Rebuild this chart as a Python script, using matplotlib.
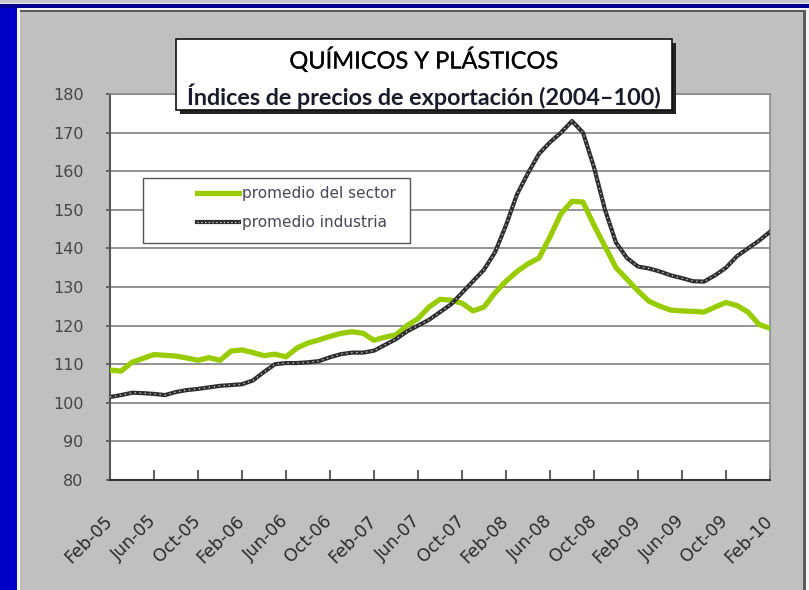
import matplotlib
matplotlib.use("Agg")
import matplotlib.pyplot as plt
from matplotlib.patches import Rectangle
from matplotlib.lines import Line2D
from matplotlib.transforms import ScaledTranslation
import matplotlib.patheffects as pe

# ---------------- data ----------------
tick_labels = ["Feb-05", "Jun-05", "Oct-05", "Feb-06", "Jun-06", "Oct-06", "Feb-07",
               "Jun-07", "Oct-07", "Feb-08", "Jun-08", "Oct-08", "Feb-09", "Jun-09",
               "Oct-09", "Feb-10"]

sector = [108.5, 108.2, 110.5, 111.5, 112.5, 112.3, 112.1, 111.6, 111.0, 111.7,
          111.0, 113.4, 113.7, 113.0, 112.2, 112.6, 111.9, 114.2, 115.5, 116.3,
          117.2, 118.0, 118.4, 118.0, 116.2, 117.0, 117.6, 120.0, 121.8, 124.8,
          126.8, 126.6, 125.8, 123.8, 124.8, 128.5, 131.5, 134.0, 136.0, 137.5,
          143.0, 149.0, 152.2, 152.0, 146.0, 140.5, 135.0, 132.0, 129.0, 126.3,
          125.0, 124.0, 123.8, 123.7, 123.5, 124.8, 126.0, 125.2, 123.5, 120.3,
          119.3]

industria = [101.5, 102.0, 102.6, 102.5, 102.3, 102.0, 102.8, 103.3, 103.6, 104.0,
             104.4, 104.6, 104.8, 105.8, 108.0, 110.0, 110.3, 110.3, 110.5, 110.8,
             111.8, 112.6, 113.0, 113.0, 113.5, 115.0, 116.5, 118.5, 120.0, 121.5,
             123.5, 125.5, 128.5, 131.5, 134.5, 139.0, 146.0, 154.0, 159.5, 164.5,
             167.5, 170.0, 173.0, 170.0, 161.0, 150.0, 141.5, 137.5, 135.3, 134.8,
             134.0, 133.0, 132.3, 131.5, 131.4, 133.0, 135.0, 138.0, 140.0, 142.0,
             144.3]

y_ticks = [80, 90, 100, 110, 120, 130, 140, 150, 160, 170, 180]
title1 = "QUÍMICOS Y PLÁSTICOS"
title2 = "Índices de precios de exportación (2004\u2013100)"
legend_labels = ["promedio del sector", "promedio industria"]

# ---------------- figure ----------------
W, H = 809, 590
fig = plt.figure(figsize=(W / 100, H / 100), dpi=100)
fig.patch.set_facecolor("#0000C8")


def fx(px):
    return px / W


def fy(py):
    return 1 - py / H


def rect_px(x0, y0, x1, y1, parent=None, **kw):
    r = Rectangle((fx(x0), fy(y1)), fx(x1) - fx(x0), fy(y0) - fy(y1),
                  transform=fig.transFigure, **kw)
    if parent is None:
        fig.add_artist(r)
    else:
        parent.add_artist(r)
    return r


# top strip
rect_px(0, 0, W, 3, facecolor="#C8C8D0", edgecolor="none", zorder=0)
rect_px(0, 3, W, 4, facecolor="#F0F0F0", edgecolor="none", zorder=0)
rect_px(0, 4, W, 8, facecolor="#00008C", edgecolor="none", zorder=0)
# white outline around chart area
rect_px(17, 8, W, H, facecolor="#F4F4F4", edgecolor="none", zorder=0)
# chart area
rect_px(20, 10, 806, H + 5, facecolor="#C0C0C0", edgecolor="none", zorder=0)
rect_px(20, 10, 806, 12, facecolor="#5A5A5A", edgecolor="none", zorder=0)
rect_px(803, 10, 806, H, facecolor="#5A5A5A", edgecolor="none", zorder=0)

# ---------------- axes ----------------
L, R, T, B = 110, 770, 94, 480
ax = fig.add_axes([fx(L), fy(B), fx(R) - fx(L), fy(T) - fy(B)])
ax.set_facecolor("white")

x = list(range(len(sector)))
tick_pos = list(range(0, len(sector), 4))

ax.plot(x, sector, color="#99CC00", lw=3.8, solid_joinstyle="round",
        solid_capstyle="round", zorder=4)
ax.plot(x, industria, color="#2E2E2E", lw=3.0, solid_joinstyle="round", zorder=5)
ax.plot(x, industria, color="#D8D8D8", lw=0.9, linestyle=(0, (1, 3)), zorder=6)

ax.set_xlim(0, len(sector) - 1)
ax.set_ylim(80, 180)
ax.set_yticks(y_ticks)
ax.set_xticks(tick_pos)
ax.set_xticklabels([])
ax.set_yticklabels([str(v) for v in y_ticks], fontsize=11.5, color="#454545")

lab_tr = ax.get_xaxis_transform() + ScaledTranslation(-7 / 100, -32 / 100, fig.dpi_scale_trans)
for pos, lab in zip(tick_pos, tick_labels):
    ax.text(pos, 0, lab, transform=lab_tr, rotation=45, ha="right", va="top",
            rotation_mode="anchor", fontsize=12.5, color="#2A2A2A", clip_on=False)

ax.tick_params(axis="x", direction="in", length=7, width=1.2, color="#444444")
ax.tick_params(axis="y", direction="out", length=3, width=1.2, color="#555555", pad=16)

ax.grid(axis="y", color="#8A8A8A", lw=1.3)
ax.set_axisbelow(True)
for s in ["top", "right"]:
    ax.spines[s].set_color("#8A8A8A")
    ax.spines[s].set_linewidth(1.2)
ax.spines["left"].set_color("#555555")
ax.spines["left"].set_linewidth(1.5)
ax.spines["bottom"].set_color("#333333")
ax.spines["bottom"].set_linewidth(1.5)

# ---------------- legend ----------------
rect_px(143, 178, 410, 243, parent=ax, facecolor="white", edgecolor="#555555",
        lw=1.0, zorder=9, clip_on=False)
h1 = Line2D([], [], color="#99CC00", lw=3.8)
h2a = Line2D([], [], color="#2E2E2E", lw=3.0)
h2b = Line2D([], [], color="#D8D8D8", lw=0.9, linestyle=(0, (1, 2)))
leg = ax.legend([h1, (h2a, h2b)], legend_labels,
                loc="center left",
                bbox_to_anchor=(fx(197), fy(208)), bbox_transform=fig.transFigure,
                fontsize=11, frameon=False, handlelength=2.75, handletextpad=0.2,
                labelspacing=0.9, borderpad=0.0, borderaxespad=0)
for t in leg.get_texts():
    t.set_color("#4A4458")
leg.set_zorder(10)

# ---------------- title box ----------------
rect_px(180, 43, 676, 114, facecolor="#222222", edgecolor="none", zorder=20)
rect_px(176, 39, 672, 110, facecolor="white", edgecolor="#111111", lw=1.2, zorder=21)
fig.text(fx(424), fy(60), title1, ha="center", va="center", fontsize=17,
         family=["Lato", "DejaVu Sans"], color="#000000", zorder=22,
         path_effects=[pe.withStroke(linewidth=0.15, foreground="#000000")])
fig.text(fx(424), fy(96), title2, ha="center", va="center", fontsize=16.8,
         family=["Lato", "DejaVu Sans"], fontweight="bold", color="#1A1A2A", zorder=22)

fig.savefig("out.png", dpi=100, facecolor=fig.get_facecolor())
